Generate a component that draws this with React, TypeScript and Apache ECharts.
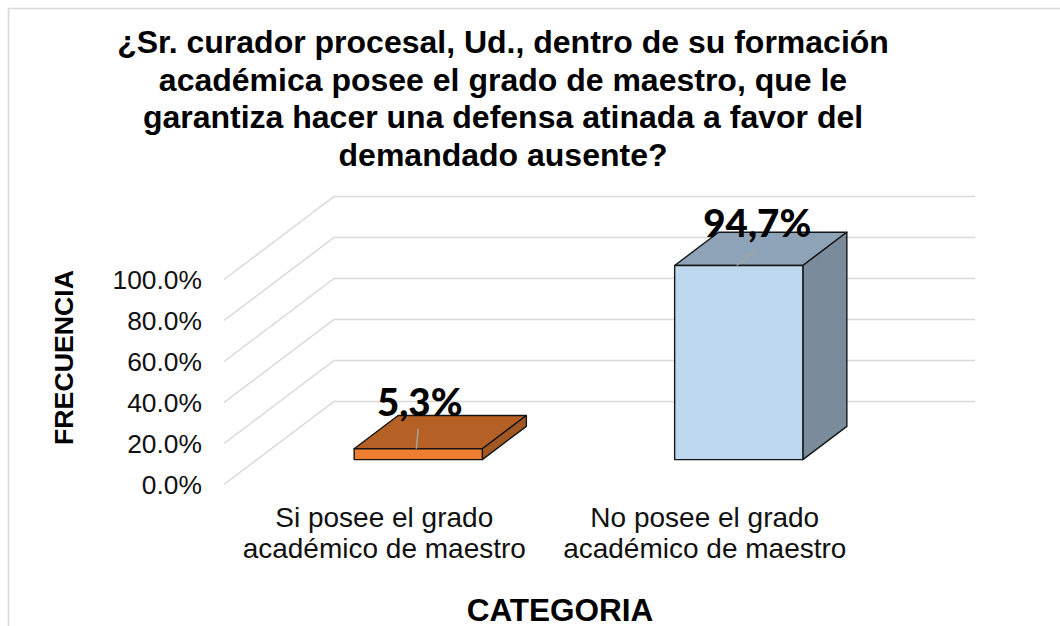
import React, { useEffect, useRef } from "react";
import * as echarts from "echarts";

const titleLines = [
  "¿Sr. curador procesal, Ud., dentro de su formación",
  "académica posee el grado de maestro, que le",
  "garantiza hacer una defensa atinada a favor del",
  "demandado ausente?",
];
const categories = ["Si posee el grado\nacadémico de maestro", "No posee el grado\nacadémico de maestro"];
const values = [5.3, 94.7];
const valueLabels = ["5,3%", "94,7%"];
const valueTicks = [0, 20, 40, 60, 80, 100];
const yAxisName = "FRECUENCIA";
const xAxisName = "CATEGORIA";

// 3D look: depth of the walls and of the bars, in pixels
const WALL_DX = 110;
const WALL_DY = 83;
const FRONT_GAP = 0.3;
const BAR_DEPTH = 0.4;
const BAR_SHIFT = 1;
const faces = [
  { front: "#ED7D31", top: "#B56024", side: "#A35722" },
  { front: "#BDD7EE", top: "#8EA3B7", side: "#7A8B9B" },
];
const labelNudge = [
  { dx: 1.5, dy: -48, lx: 2, ly: -20 },
  { dx: 18.5, dy: -43, lx: 19, ly: -15 },
];
const EDGE = "#161616";

export default function App() {
  const ref = useRef<HTMLDivElement>(null);
  useEffect(() => {
    const chart = echarts.init(ref.current!, undefined, { renderer: "svg" });
    chart.setOption({
      animation: false,
      backgroundColor: "#ffffff",
      textStyle: { fontFamily: "Liberation Sans" },
      title: {
        text: titleLines.join("\n"),
        left: 503,
        top: 23,
        padding: 0,
        textAlign: "center",
        textStyle: {
          fontFamily: "Liberation Sans",
          fontSize: 32,
          fontWeight: "bold",
          color: "#000",
          lineHeight: 37.7,
        },
      },
      graphic: [
        {
          type: "polyline",
          silent: true,
          shape: { points: [[8.5, 626], [8.5, 8.5], [1060, 8.5]] },
          style: { stroke: "#d9d9d9", lineWidth: 1.6, fill: "none" },
        },
      ],
      grid: { left: 224, width: 641, top: 279.5, height: 205, outerBoundsMode: "none" },
      xAxis: {
        type: "category",
        data: categories,
        name: xAxisName,
        nameLocation: "middle",
        nameGap: 109,
        nameTextStyle: {
          fontFamily: "Liberation Sans",
          fontSize: 31.5,
          fontWeight: "bold",
          color: "#000",
          padding: [0, 0, 0, 31],
        },
        axisLine: { show: false },
        axisTick: { show: false },
        axisLabel: {
          margin: 17,
          fontFamily: "Liberation Sans",
          fontSize: 28,
          lineHeight: 31,
          color: "#111",
          interval: 0,
        },
      },
      yAxis: {
        type: "value",
        min: 0,
        max: 100,
        interval: 20,
        name: yAxisName,
        nameLocation: "middle",
        nameRotate: 90,
        nameGap: 147,
        nameTextStyle: {
          fontFamily: "Liberation Sans",
          fontSize: 26.7,
          fontWeight: "bold",
          color: "#000",
          padding: [0, 0, 0, 49],
        },
        axisLine: { show: false },
        axisTick: { show: false },
        splitLine: { show: false },
        axisLabel: {
          margin: 22,
          fontFamily: "Liberation Sans",
          fontSize: 26.4,
          color: "#111",
          formatter: (v: number) => `${v.toFixed(1)}%`,
        },
      },
      series: [
        {
          type: "custom",
          silent: true,
          z: 1,
          data: valueTicks.map((t) => [0, t]),
          encode: { x: 0, y: 1 },
          renderItem: (params: any, api: any) => {
            const y = api.coord([0, api.value(1)])[1];
            const cs = params.coordSys;
            return {
              type: "polyline",
              shape: {
                points: [
                  [cs.x, y],
                  [cs.x + WALL_DX, y - WALL_DY],
                  [cs.x + cs.width + WALL_DX, y - WALL_DY],
                ],
              },
              style: { stroke: "#d9d9d9", lineWidth: 1.5, fill: "none" },
            };
          },
        },
        {
          type: "custom",
          silent: true,
          z: 2,
          data: values.map((v, i) => [i, v]),
          encode: { x: 0, y: 1 },
          renderItem: (params: any, api: any) => {
            const i = params.dataIndex;
            const [cx, yTopRaw] = api.coord([api.value(0), api.value(1)]);
            const yBaseRaw = api.coord([api.value(0), 0])[1];
            const w = api.size([1, 0])[0] * BAR_DEPTH;
            const gx = WALL_DX * FRONT_GAP;
            const gy = WALL_DY * FRONT_GAP;
            const dx = WALL_DX * BAR_DEPTH;
            const dy = WALL_DY * BAR_DEPTH;
            const x0 = cx - w / 2 + gx + BAR_SHIFT;
            const x1 = x0 + w;
            const yt = yTopRaw - gy;
            const yb = yBaseRaw - gy;
            const f = faces[i];
            const n = labelNudge[i];
            const edge = { stroke: EDGE, lineWidth: 1.4, lineJoin: "round" };
            const midX = (x0 + x1) / 2;
            return {
              type: "group",
              children: [
                {
                  type: "polygon",
                  shape: { points: [[x0, yt], [x1, yt], [x1 + dx, yt - dy], [x0 + dx, yt - dy]] },
                  style: { fill: f.top, ...edge },
                },
                {
                  type: "polygon",
                  shape: { points: [[x1, yt], [x1 + dx, yt - dy], [x1 + dx, yb - dy], [x1, yb]] },
                  style: { fill: f.side, ...edge },
                },
                {
                  type: "rect",
                  shape: { x: x0, y: yt, width: w, height: yb - yt },
                  style: { fill: f.front, ...edge },
                },
                {
                  type: "line",
                  shape: { x1: midX - 2, y1: yt, x2: midX + n.lx - 2, y2: yt + n.ly },
                  style: { stroke: "#a6a6a6", lineWidth: 1.4 },
                },
                {
                  type: "text",
                  style: {
                    text: valueLabels[i],
                    x: midX + n.dx,
                    y: yt + n.dy,
                    align: "center",
                    verticalAlign: "middle",
                    fontFamily: "Lato",
                    fontSize: 38.5,
                    fontWeight: 900,
                    fill: "#000",
                  },
                },
              ],
            };
          },
        },
      ],
    });
    return () => chart.dispose();
  }, []);
  return (
    <div
      ref={ref}
      style={{ position: "fixed", left: 0, top: 0, width: 1060, height: 626 }}
    />
  );
}
